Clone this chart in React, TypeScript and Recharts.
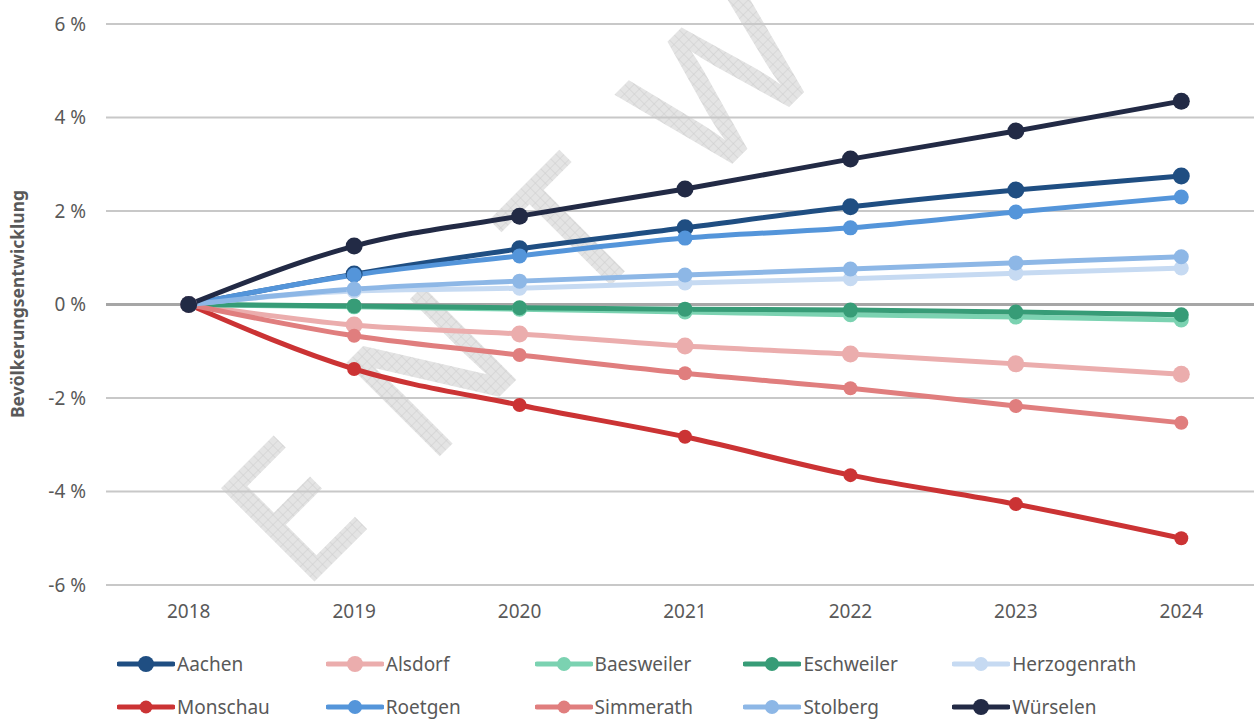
import { CartesianGrid, Line, LineChart, XAxis, YAxis } from "recharts";

const years = ["2018", "2019", "2020", "2021", "2022", "2023", "2024"];

const aachen = [0, 0.65, 1.19, 1.64, 2.09, 2.45, 2.75];
const alsdorf = [0, -0.44, -0.63, -0.89, -1.06, -1.27, -1.49];
const baesweiler = [0, -0.05, -0.1, -0.16, -0.22, -0.27, -0.33];
const eschweiler = [0, -0.03, -0.07, -0.1, -0.12, -0.16, -0.22];
const herzogenrath = [0, 0.29, 0.35, 0.46, 0.55, 0.67, 0.78];
const monschau = [0, -1.38, -2.15, -2.83, -3.65, -4.27, -5.0];
const roetgen = [0, 0.63, 1.04, 1.42, 1.64, 1.98, 2.3];
const simmerath = [0, -0.67, -1.08, -1.47, -1.79, -2.17, -2.53];
const stolberg = [0, 0.33, 0.5, 0.63, 0.76, 0.89, 1.02];
const wuerselen = [0, 1.25, 1.89, 2.47, 3.11, 3.71, 4.35];

const yTicks = [-6, -4, -2, 0, 2, 4, 6];

const series = [
  { name: "Aachen", values: aachen, color: "#1f4e82", r: 8.5 },
  { name: "Alsdorf", values: alsdorf, color: "#ebadad", r: 8.5 },
  { name: "Baesweiler", values: baesweiler, color: "#7bd2b1", r: 7.5 },
  { name: "Eschweiler", values: eschweiler, color: "#379c77", r: 7.5 },
  { name: "Herzogenrath", values: herzogenrath, color: "#c6daf2", r: 7.5 },
  { name: "Monschau", values: monschau, color: "#cb3334", r: 7 },
  { name: "Roetgen", values: roetgen, color: "#5495da", r: 7.5 },
  { name: "Simmerath", values: simmerath, color: "#e07e7e", r: 7 },
  { name: "Stolberg", values: stolberg, color: "#8db7e6", r: 7.5 },
  { name: "Würselen", values: wuerselen, color: "#222a45", r: 8.5 },
];

const data = years.map((year, i) => {
  const row: Record<string, string | number> = { year };
  series.forEach((s) => {
    row[s.name] = s.values[i];
  });
  return row;
});

const font = "'Noto Sans', sans-serif";
const textGrey = "#595959";
const tickStyle = { fill: textGrey, fontSize: 19, fontFamily: font };

const W = 1264;
const H = 719;
const TOP = 24;
const PLOT_H = 561;
const Y_AXIS_W = 106;
const HALF_STEP = (W - Y_AXIS_W) / years.length / 2;

const gridLine = (props: any) => {
  const { x1, x2, y1, y2, index } = props;
  const zero = Math.abs(y1 - (TOP + PLOT_H / 2)) < 2;
  return (
    <line
      key={`grid-${index}`}
      x1={x1}
      x2={x2}
      y1={y1}
      y2={y2}
      stroke={zero ? "#a6a6a6" : "#c8c8c8"}
      strokeWidth={zero ? 3 : 2}
    />
  );
};

export default function App() {
  return (
    <div style={{ position: "relative", width: 1254, height: H, overflow: "hidden" }}>
      <style>{"body{margin:0;overflow:hidden}"}</style>

      {/* watermark + axis title */}
      <svg width={W} height={H} style={{ position: "absolute", left: 0, top: 0 }}>
        <defs>
          <pattern id="hatch" width="7" height="7" patternUnits="userSpaceOnUse">
            <rect width="7" height="7" fill="#e4e4e4" />
            <path d="M0 0H7M0 0V7" stroke="#cdcdcd" strokeWidth="1" />
          </pattern>
        </defs>
        <text
          transform="translate(302,594) rotate(-45)"
          fontFamily={font}
          fontWeight={500}
          fontSize={185}
          letterSpacing={74}
          fill="url(#hatch)"
        >
          ENTWURF
        </text>
        <text
          transform="translate(24,304) rotate(-90)"
          textAnchor="middle"
          fontFamily={font}
          fontWeight={700}
          fontSize={17.5}
          fill={textGrey}
        >
          Bevölkerungsentwicklung
        </text>
      </svg>

      <div style={{ position: "absolute", left: 0, top: 0 }}>
        <LineChart
          width={W}
          height={H}
          data={data}
          margin={{ top: TOP, right: 0, left: 0, bottom: H - TOP - PLOT_H - 30 }}
        >
          <CartesianGrid vertical={false} horizontal={gridLine} />
          <XAxis
            dataKey="year"
            axisLine={false}
            tickLine={false}
            tick={tickStyle}
            tickMargin={14}
            height={30}
            padding={{ left: HALF_STEP, right: HALF_STEP }}
          />
          <YAxis
            type="number"
            domain={[-6, 6]}
            ticks={yTicks}
            width={Y_AXIS_W}
            axisLine={false}
            tickLine={false}
            tickMargin={14}
            tick={tickStyle}
            tickFormatter={(v: number) => `${v} %`}
          />
          {series.map((s) => (
            <Line
              key={s.name}
              type="monotone"
              dataKey={s.name}
              stroke={s.color}
              strokeWidth={5}
              dot={{ r: s.r, fill: s.color, stroke: s.color, strokeWidth: 0 }}
              activeDot={false}
              isAnimationActive={false}
            />
          ))}
        </LineChart>
      </div>

      {/* legend */}
      {series.map((s, i) => {
        const col = i % 5;
        const row = Math.floor(i / 5);
        return (
          <div
            key={s.name}
            style={{
              position: "absolute",
              left: 117 + col * 208.8,
              top: 664 + row * 43 - 14,
              height: 28,
              display: "flex",
              alignItems: "center",
              fontFamily: font,
              fontSize: 19,
              color: textGrey,
              whiteSpace: "nowrap",
            }}
          >
            <svg width={58} height={20} style={{ marginRight: 2 }}>
              <line x1={2} x2={56} y1={10} y2={10} stroke={s.color} strokeWidth={5} strokeLinecap="round" />
              <circle cx={29} cy={10} r={s.r - 0.5} fill={s.color} />
            </svg>
            {s.name}
          </div>
        );
      })}
    </div>
  );
}
